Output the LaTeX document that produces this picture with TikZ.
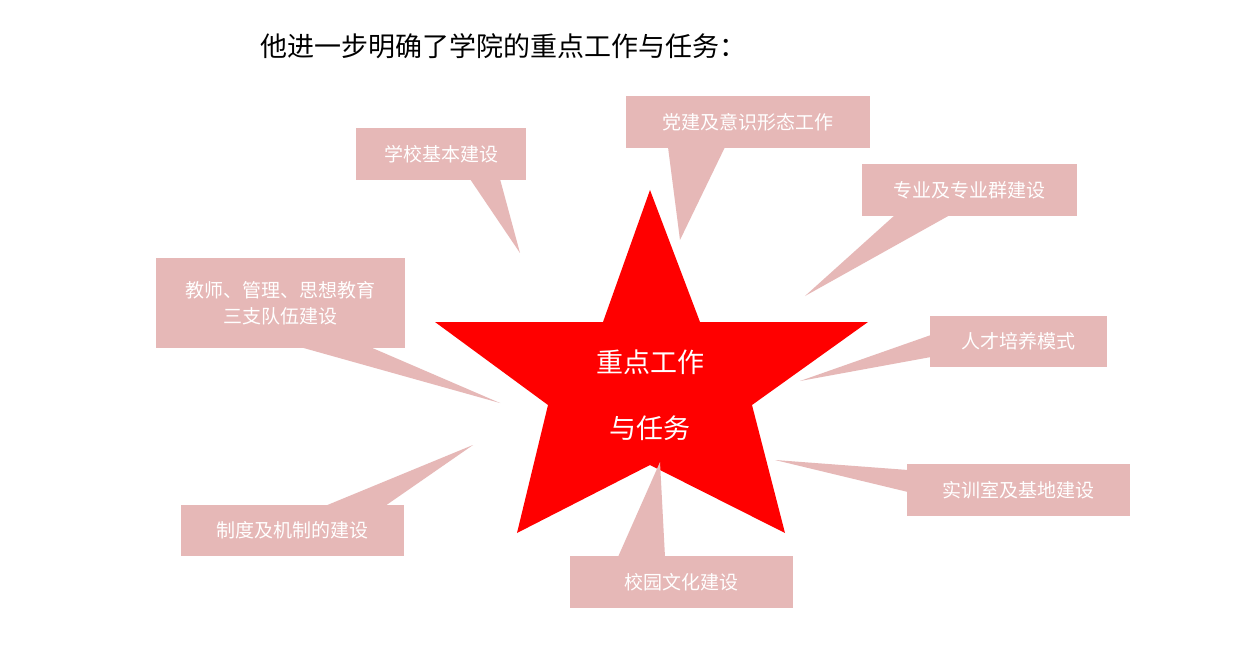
\documentclass[tikz,border=0pt]{standalone}
\usepackage{fontspec}
\newfontfamily\cjk{Noto Sans CJK SC}
\definecolor{pinkbox}{HTML}{E6B8B7}
\definecolor{starred}{HTML}{FF0000}
\begin{document}
\begin{tikzpicture}[x=1pt,y=-1pt,
  lbl/.style={text=white,font=\cjk\fontsize{19}{26}\selectfont,align=center},
  fillp/.style={fill=pinkbox,draw=none}]
\useasboundingbox (0,0) rectangle (1240,663);
\fill[white] (0,0) rectangle (1240,663);
\node[font=\cjk\fontsize{27}{30}\selectfont] (title) at (503,46) {他进一步明确了学院的重点工作与任务：};
% star
\fill[starred] (650,190) -- (700,322) -- (868,322) -- (752,405) -- (785,533) -- (650,465) -- (517,533) -- (548,405) -- (435,322) -- (603,322) -- cycle;
\node[text=white,font=\cjk\fontsize{27}{30}\selectfont] (c1) at (650,362) {重点工作};
\node[text=white,font=\cjk\fontsize{27}{30}\selectfont] (c2) at (650,428) {与任务};
% callouts
\fill[fillp] (356,128) rectangle (526,180); \fill[fillp] (470,179) -- (520,253) -- (500,179) -- cycle;
\node[lbl] (b1) at (441,154) {学校基本建设};
\fill[fillp] (626,96) rectangle (870,148); \fill[fillp] (668,147) -- (680,240) -- (725,147) -- cycle;
\node[lbl] (b2) at (748,122) {党建及意识形态工作};
\fill[fillp] (862,164) rectangle (1077,216); \fill[fillp] (895,215) -- (805,296) -- (950,215) -- cycle;
\node[lbl] (b3) at (969,190) {专业及专业群建设};
\fill[fillp] (156,258) rectangle (405,348); \fill[fillp] (300,347) -- (500,403) -- (370,347) -- cycle;
\node[lbl] (b4) at (280,303) {教师、管理、思想教育\\三支队伍建设};
\fill[fillp] (930,316) rectangle (1107,367); \fill[fillp] (931,335) -- (800,381) -- (931,357) -- cycle;
\node[lbl] (b5) at (1018,341) {人才培养模式};
\fill[fillp] (181,505) rectangle (404,556); \fill[fillp] (325,506) -- (473,445) -- (385,506) -- cycle;
\node[lbl] (b6) at (292,530) {制度及机制的建设};
\fill[fillp] (907,464) rectangle (1130,516); \fill[fillp] (908,470) -- (775,460) -- (908,492) -- cycle;
\node[lbl] (b7) at (1018,490) {实训室及基地建设};
\fill[fillp] (570,556) rectangle (793,608); \fill[fillp] (618,557) -- (660,462) -- (665,557) -- cycle;
\node[lbl] (b8) at (681,582) {校园文化建设};
\end{tikzpicture}
\end{document}
